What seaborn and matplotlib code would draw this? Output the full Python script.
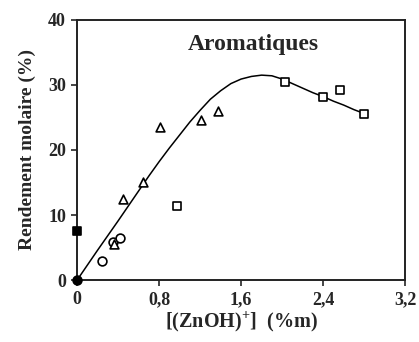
import pandas as pd
import matplotlib
matplotlib.use('Agg')
import matplotlib.pyplot as plt
import seaborn as sns
from matplotlib.ticker import FuncFormatter

# data
circ_x = [0.24, 0.35, 0.42]
circ_y = [2.9, 5.9, 6.4]
tri_x = [0.36, 0.45, 0.64, 0.81, 1.21, 1.37]
tri_y = [5.5, 12.5, 15.1, 23.6, 24.6, 26.0]
sq_x = [0.97, 2.03, 2.40, 2.56, 2.80]
sq_y = [11.4, 30.5, 28.2, 29.2, 25.6]
full_sq_x = [0.0]
full_sq_y = [7.5]
full_circ_x = [0.0]
full_circ_y = [0.0]

curve_x = [0.0, 0.2, 0.4, 0.6, 0.7, 0.8, 0.9, 1.0, 1.1, 1.2, 1.3, 1.4, 1.5, 1.6, 1.7,
           1.8, 1.9, 2.0, 2.1, 2.2, 2.3, 2.4, 2.5, 2.6, 2.7, 2.8]
curve_y = [0.0, 4.6, 9.1, 13.7, 16.0, 18.2, 20.3, 22.3, 24.3, 26.1, 27.8, 29.1, 30.2,
           30.9, 31.3, 31.5, 31.4, 30.9, 30.2, 29.5, 28.8, 28.2, 27.5, 26.9, 26.2, 25.6]

sns.set_style('ticks')
plt.rcParams['font.family'] = ['Liberation Serif', 'DejaVu Serif']
plt.rcParams['font.weight'] = 'bold'
plt.rcParams['mathtext.fontset'] = 'custom'
plt.rcParams['mathtext.bf'] = 'Liberation Serif:bold'

fig = plt.figure(figsize=(4.19, 3.42), dpi=100)
ax = fig.add_axes([0.184, 0.181, 0.783, 0.761])

curve = pd.DataFrame({'x': curve_x, 'y': curve_y})
sns.lineplot(data=curve, x='x', y='y', ax=ax, color='black', lw=1.1, sort=False)

kw = dict(ax=ax, s=40, linewidth=1.2, zorder=3, clip_on=False, edgecolor='black')
sns.scatterplot(x=circ_x, y=circ_y, marker='o', facecolor='white', **kw)
sns.scatterplot(x=tri_x, y=tri_y, marker='^', facecolor='white', **kw)
sns.scatterplot(x=sq_x, y=sq_y, marker='s', facecolor='white', **kw)
sns.scatterplot(x=full_sq_x, y=full_sq_y, marker='s', facecolor='black', **kw)
sns.scatterplot(x=full_circ_x, y=full_circ_y, marker='o', facecolor='black', **kw)

ax.set_xlim(0, 3.2)
ax.set_ylim(0, 40)
ax.set_xticks([0, 0.8, 1.6, 2.4, 3.2])
ax.set_yticks([0, 10, 20, 30, 40])
ax.xaxis.set_major_formatter(FuncFormatter(lambda v, p: ('%g' % v).replace('.', ',')))

for s in ax.spines.values():
    s.set_visible(True)
    s.set_linewidth(1.4)
    s.set_color('#222222')

ax.tick_params(direction='out', length=4, width=1.2, labelsize=13, pad=4)
for t in ax.get_xticklabels() + ax.get_yticklabels():
    t.set_fontweight('bold')

ax.set_xlabel('[(ZnOH)$^{\\mathbf{+}}$]  (%m)', fontsize=14.5, fontweight='bold', labelpad=1)
ax.set_ylabel('Rendement molaire (%)', fontsize=14, fontweight='bold', labelpad=9)
ax.text(0.537, 0.905, 'Aromatiques', transform=ax.transAxes, ha='center', va='center',
        fontsize=17, fontweight='bold')

fig.savefig('out.png', dpi=100)
